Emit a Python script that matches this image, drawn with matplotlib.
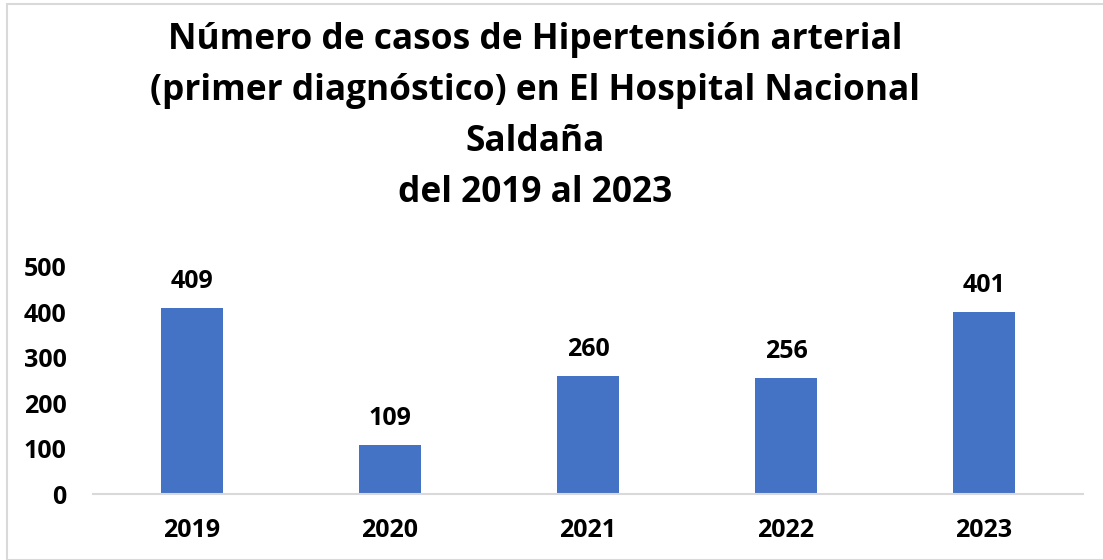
import matplotlib
matplotlib.use("Agg")
import matplotlib.pyplot as plt
from matplotlib.patches import Rectangle

years = ["2019", "2020", "2021", "2022", "2023"]
cases = [409, 109, 260, 256, 401]
yticks = [0, 100, 200, 300, 400, 500]
title = ("Número de casos de Hipertensión arterial\n"
         "(primer diagnóstico) en El Hospital Nacional\n"
         "Saldaña\n"
         "del 2019 al 2023")

plt.rcParams['font.family'] = ['Open Sans', 'DejaVu Sans']
plt.rcParams['font.weight'] = 'bold'

fig = plt.figure(figsize=(11.03, 5.6), dpi=100)
ax = fig.add_axes([93/1103, 66/560, 990/1103, (494-267)/560])

x = list(range(len(years)))
bars = ax.bar(x, cases, width=0.31, color="#4472C4", zorder=2)
ax.set_xlim(-0.5, len(years) - 0.5)
ax.set_ylim(0, 500)
ax.set_yticks(yticks)
ax.set_yticklabels([str(t) for t in yticks])
ax.set_xticks(x)
ax.set_xticklabels(years)
ax.tick_params(axis='y', length=0, pad=19, labelsize=18)
ax.tick_params(axis='x', length=0, pad=17, labelsize=18)
for lab in ax.get_xticklabels() + ax.get_yticklabels():
    lab.set_fontweight('bold')

for s in ['top', 'right', 'left']:
    ax.spines[s].set_visible(False)
ax.spines['bottom'].set_color('#d9d9d9')
ax.spines['bottom'].set_linewidth(1.5)

for xi, v in zip(x, cases):
    ax.annotate(str(v), (xi, v), xytext=(0, 10), textcoords='offset points',
                ha='center', va='bottom', fontsize=18, fontweight='bold',
                color='black', clip_on=False)

fig.text(535/1103, 1 - 22/560, title, ha='center', va='top',
         fontsize=25.4, fontweight='bold', linespacing=1.56)

fig.patches.append(Rectangle((6.5/1103, 0), 1.2, 1 - 3.5/560, transform=fig.transFigure,
                             fill=False, edgecolor='#d9d9d9', linewidth=1.5))

fig.savefig("out.png", dpi=100)
